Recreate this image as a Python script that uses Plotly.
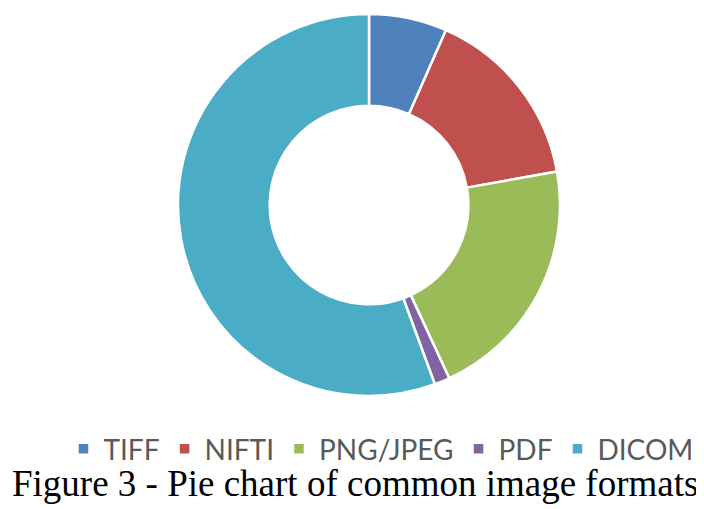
import plotly.graph_objects as go

labels = ["TIFF", "NIFTI", "PNG/JPEG", "PDF", "DICOM"]
values = [6.6, 15.6, 20.9, 1.3, 55.6]
colors = ["#4F81BD", "#C0504D", "#9BBB59", "#8064A2", "#4BACC6"]
caption = "Figure 3 - Pie chart of common image formats"

# page body has an 8px margin; work in figure coordinates
OFF = 8
W, H = 704 - OFF, 509 - OFF

def px_x(x):
    return (x - OFF) / W

def px_y(y):
    return 1 - (y - OFF) / H

fig = go.Figure(go.Pie(
    labels=labels, values=values, hole=0.52, sort=False, direction="clockwise",
    rotation=0, textinfo="none", hoverinfo="label+percent",
    marker=dict(colors=colors, line=dict(color="white", width=2.5)),
    domain=dict(x=[px_x(178), px_x(560)], y=[px_y(396), px_y(14)]),
))

fig.update_layout(
    width=W, height=H, margin=dict(l=0, r=0, t=0, b=0),
    paper_bgcolor="white", plot_bgcolor="white",
    legend=dict(orientation="h", x=px_x(381), xanchor="center", y=px_y(424), yanchor="top",
                font=dict(family="Lato, Liberation Sans, sans-serif", size=28, color="#595959"),
                itemwidth=30, traceorder="normal", tracegroupgap=0),
    annotations=[dict(text=caption, x=px_x(355), xanchor="center", y=px_y(506), yanchor="bottom",
                      xref="paper", yref="paper", showarrow=False,
                      font=dict(family="Liberation Serif, Times New Roman, serif", size=37, color="black"))],
)

fig.write_html("out.html")
